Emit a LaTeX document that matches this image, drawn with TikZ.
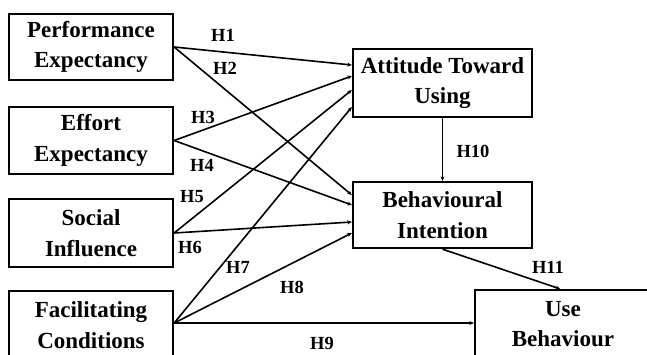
\documentclass[tikz,border=0pt]{standalone}
\usepackage{fontspec}
\setmainfont{Liberation Serif}
\usetikzlibrary{arrows.meta}
\begin{document}
\begin{tikzpicture}[x=1pt,y=-1pt,
  box/.style={draw,line width=2.3pt,align=center,inner sep=0pt,
    font=\bfseries\fontsize{23}{30.5}\selectfont},
  link/.style={line width=1.6pt,-{Stealth[length=4.5pt,width=4pt]}},
  hlab/.style={font=\bfseries\fontsize{18.5}{20}\selectfont,inner sep=0pt}]
\useasboundingbox (0,0) rectangle (647,354);
\clip (0,0) rectangle (647,354);
\fill[white] (0,0) rectangle (647,354);
% boxes
\node[box,minimum width=164pt,minimum height=66pt] (PE) at (91,47) {Performance\\Expectancy};
\node[box,minimum width=164pt,minimum height=67pt] (EE) at (91,140.5) {Effort\\Expectancy};
\node[box,minimum width=164pt,minimum height=68pt] (SI) at (91,233) {Social\\Influence};
\node[box,minimum width=164pt,minimum height=68pt] (FC) at (91,325) {Facilitating\\Conditions};
\node[box,minimum width=179pt,minimum height=68pt] (ATU) at (442.5,83) {Attitude Toward\\Using};
\node[box,minimum width=179pt,minimum height=66pt] (BI) at (442.5,215) {Behavioural\\Intention};
\node[box,minimum width=176pt,minimum height=68pt] (UB) at (563,324) {Use\\Behaviour};
% connectors to ATU
\draw[link] (PE.east) -- ([yshift=18pt]ATU.west);
\draw[link] (EE.east) -- ([yshift=7pt]ATU.west);
\draw[link] (SI.east) -- ([yshift=-7pt]ATU.west);
\draw[link] ([yshift=2pt]FC.east) -- ([yshift=-24pt]ATU.west);
% connectors to BI
\draw[link] (PE.east) -- ([yshift=20pt]BI.west);
\draw[link] (EE.east) -- ([yshift=10pt]BI.west);
\draw[link] (SI.east) -- ([yshift=-7pt]BI.west);
\draw[link] ([yshift=2pt]FC.east) -- ([yshift=-18pt]BI.west);
% others
\draw[link] ([yshift=2pt]FC.east) -- ([yshift=2pt]FC.east -| UB.west);
\draw[link] (ATU.south) -- (BI.north);
\draw[link] (BI.south) -- ([xshift=-3pt]UB.north);
% labels
\node[hlab] (l1) at (223,35) {H1};
\node[hlab] (l2) at (225,68) {H2};
\node[hlab] (l3) at (203,117) {H3};
\node[hlab] (l4) at (202,165) {H4};
\node[hlab] (l5) at (192,197) {H5};
\node[hlab] (l6) at (190,247) {H6};
\node[hlab] (l7) at (238,267) {H7};
\node[hlab] (l8) at (292,287) {H8};
\node[hlab] (l9) at (322,343) {H9};
\node[hlab] (l10) at (473,151) {H10};
\node[hlab] (l11) at (548,267) {H11};
\end{tikzpicture}
\end{document}
